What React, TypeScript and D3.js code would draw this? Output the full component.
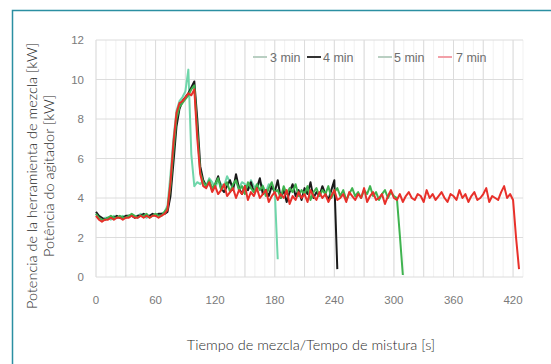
import * as d3 from 'd3';

// sampling interval of every series, in seconds
const STEP = 3;

const seriesNames = ['3 min', '4 min', '5 min', '7 min'];
const seriesColors = ['#6fd6aa', '#1a1a1a', '#3fb34f', '#e8302a'];
const legendLineColors = ['#b9cfc2', '#333333', '#b9cfc2', '#f2a0a8'];

const min3 = [
  3.2, 3.0, 2.9, 3.0, 3.0, 2.9, 3.1, 3.0, 3.0, 3.1, 3.0, 3.1, 3.1, 3.0, 3.1, 3.2, 3.1, 3.0, 3.1, 3.1, 3.2, 3.1, 3.2, 3.3,
  3.6, 5.2, 7.0, 8.4, 8.9, 9.1, 9.4, 10.5, 6.2, 4.6, 4.8,
  4.7, 4.9, 4.6, 5.0, 4.8, 4.5, 4.9, 4.7, 4.6, 5.1, 4.8, 4.6, 4.9, 4.5, 4.8, 4.7, 4.4, 4.9, 4.6, 4.5, 4.8, 4.6, 4.3, 4.7, 4.5, 4.4,
  0.9,
];

const min4 = [
  3.3, 3.1, 3.0, 2.9, 3.0, 3.0, 3.0, 3.1, 3.0, 3.0, 3.1, 3.1, 3.1, 3.0, 3.1, 3.1, 3.2, 3.1, 3.1, 3.2, 3.1, 3.2, 3.2, 3.2,
  3.3, 4.1, 5.8, 7.6, 8.5, 8.9, 9.1, 9.3, 9.6, 9.9, 8.0, 5.6,
  4.9, 4.6, 4.8, 4.4, 4.7, 5.1, 4.5, 4.3, 4.6, 4.9, 4.4, 5.2, 4.5, 4.2, 4.6, 4.4, 4.8, 4.3, 4.5, 5.0,
  4.2, 4.4, 4.1, 4.6, 4.3, 4.9, 4.0, 4.4, 3.8, 4.3, 4.7, 4.1, 4.4, 3.9, 4.5, 4.2, 4.8, 4.0, 4.3, 4.1,
  4.6, 4.2, 3.9, 4.4, 4.9,
  0.4,
];

const min5 = [
  3.2, 3.0, 2.9, 2.9, 3.0, 3.1, 3.0, 3.0, 3.1, 3.0, 3.0, 3.1, 3.2, 3.1, 3.0, 3.1, 3.1, 3.2, 3.0, 3.1, 3.2, 3.1, 3.1, 3.3,
  3.5, 4.6, 6.4, 8.0, 8.6, 8.8, 9.0, 9.2, 9.5, 9.7, 7.4, 5.3,
  4.8, 4.6, 4.9, 4.5, 4.7, 5.0, 4.4, 4.6, 4.8, 4.3, 4.7, 4.9, 4.4, 4.6, 4.2, 4.8, 4.5, 4.3, 4.7, 4.4,
  4.6, 4.1, 4.5, 4.8, 4.3, 4.4, 4.0, 4.6, 4.2, 4.5, 4.3, 4.7, 4.1, 4.4, 4.2, 4.6, 3.9, 4.3, 4.5, 4.1,
  4.4, 4.2, 4.6, 4.0, 4.3, 4.5, 4.1, 4.4, 3.9, 4.2, 4.5, 4.1, 4.3, 4.0, 4.4, 4.2, 4.6, 4.1, 4.3, 3.9,
  4.2, 4.4, 4.0, 4.3, 4.1, 4.0,
  2.1, 0.1,
];

const min7 = [
  3.1, 2.9, 2.8, 2.9, 2.9, 3.0, 2.9, 3.0, 3.0, 2.9, 3.0, 3.0, 3.1, 3.0, 3.0, 3.1, 3.0, 3.1, 3.0, 3.1, 3.1, 3.0, 3.1, 3.2,
  3.4, 4.8, 6.8, 8.3, 8.8, 8.9, 9.1, 9.3, 9.2, 9.5, 7.0, 5.2, 4.6,
  4.5, 4.8, 4.3, 4.6, 4.2, 4.4, 4.7, 4.1, 4.3, 4.5, 4.0, 4.4, 4.2, 4.6, 3.9, 4.3, 4.1, 4.5, 4.0, 4.2,
  4.4, 3.8, 4.1, 4.3, 3.9, 4.2, 4.0, 4.4, 3.7, 4.1, 3.9, 4.3, 4.0, 4.2, 3.8, 4.4, 4.1, 3.9, 4.3, 4.0,
  4.2, 3.8, 4.1, 4.4, 3.9, 4.0, 4.2, 3.8, 4.3, 4.1, 3.9, 4.2, 4.0, 4.5, 3.8, 4.1, 4.3, 3.9, 4.0, 4.2,
  3.7, 4.1, 4.4, 4.0, 3.9, 4.2, 3.8, 4.1, 4.3, 4.0, 3.9, 4.2, 4.1, 3.8, 4.4, 4.0, 4.2, 3.9, 4.1, 4.3,
  4.0, 3.8, 4.2, 4.1, 3.9, 4.4, 4.0, 4.2, 3.8, 4.1, 4.3, 3.9, 4.0, 4.2, 4.5, 3.8, 4.1, 4.0, 3.9, 4.3,
  4.6, 4.0, 4.2, 3.9,
  2.0, 0.4,
];

const seriesValues = [min3, min4, min5, min7];

const xTicks = [0, 60, 120, 180, 240, 300, 360, 420];
const yTicks = [0, 2, 4, 6, 8, 10, 12];

const yTitle1 = 'Potencia de la herramienta de mezcla [kW]';
const yTitle2 = 'Potência do agitador [kW]';
const xTitle = 'Tiempo de mezcla/Tempo de mistura [s]';

export default function App() {
  const width = 551;
  const height = 364;

  const x = d3.scaleLinear().domain([0, 430]).range([96, 523]);
  const y = d3.scaleLinear().domain([0, 12]).range([277, 40]);

  const line = d3
    .line<number>()
    .x((_, i) => x(i * STEP))
    .y((d) => y(d));

  const minorX = d3.range(0, 431, 10);
  const gridX = d3.range(0, 421, 30);

  // legend layout (x of line start, label start)
  const legendItems = [
    { lx: 253, tx: 270 },
    { lx: 307, tx: 323 },
    { lx: 378, tx: 394 },
    { lx: 438, tx: 456 },
  ];

  const tickFont = 'Liberation Sans, Arial, sans-serif';

  return (
    <svg
      width={width}
      height={height}
      style={{ position: 'fixed', left: 0, top: 0, background: '#fff' }}
    >
      <rect x={0} y={0} width={width} height={height} fill="#fff" />
      {/* frame */}
      <path d={`M12.5,${height + 2} V10.5 H${width + 2}`} fill="none" stroke="#2b8fa2" strokeWidth={1.5} />

      {/* grid */}
      {minorX.map((t) => (
        <line key={'mx' + t} x1={x(t)} x2={x(t)} y1={y(12)} y2={y(0)} stroke="#f1f1f1" strokeWidth={1} />
      ))}
      {gridX.map((t) => (
        <line key={'gx' + t} x1={x(t)} x2={x(t)} y1={y(12)} y2={y(0)} stroke="#dcdcdc" strokeWidth={1} />
      ))}
      {yTicks.map((v) => (
        <line key={'gy' + v} x1={x(0)} x2={x(430)} y1={y(v)} y2={y(v)} stroke="#dcdcdc" strokeWidth={1} />
      ))}

      {/* series */}
      {seriesValues.map((vals, i) => (
        <path
          key={seriesNames[i]}
          d={line(vals) ?? ''}
          fill="none"
          stroke={seriesColors[i]}
          strokeWidth={2}
          strokeLinejoin="round"
        />
      ))}

      {/* tick labels */}
      {yTicks.map((v) => (
        <text
          key={'ty' + v}
          x={84}
          y={y(v) + 4}
          textAnchor="end"
          fontFamily={tickFont}
          fontSize={11.5}
          fill="#7a7a7a"
        >
          {v}
        </text>
      ))}
      {xTicks.map((t) => (
        <text
          key={'tx' + t}
          x={x(t)}
          y={304}
          textAnchor="middle"
          fontFamily={tickFont}
          fontSize={11.5}
          fill="#7a7a7a"
        >
          {t}
        </text>
      ))}

      {/* legend */}
      {legendItems.map((it, i) => (
        <g key={'lg' + i}>
          <line x1={it.lx} x2={it.lx + 14} y1={57} y2={57} stroke={legendLineColors[i]} strokeWidth={2} />
          <text x={it.tx} y={61.5} fontFamily={tickFont} fontSize={12.5} fill="#6e6e6e">
            {seriesNames[i]}
          </text>
        </g>
      ))}

      {/* axis titles */}
      <text
        transform="translate(37,176) rotate(-90)"
        textAnchor="middle"
        fontFamily="Lato, sans-serif"
        fontWeight={300}
        fontSize={14.5}
        fill="#2a2a2a"
      >
        {yTitle1}
      </text>
      <text
        transform="translate(54,176) rotate(-90)"
        textAnchor="middle"
        fontFamily="Lato, sans-serif"
        fontWeight={300}
        fontSize={14.5}
        fill="#2a2a2a"
      >
        {yTitle2}
      </text>
      <text
        x={311}
        y={350}
        textAnchor="middle"
        fontFamily="Lato, sans-serif"
        fontWeight={300}
        fontSize={14.5}
        fill="#2a2a2a"
      >
        {xTitle}
      </text>
    </svg>
  );
}
